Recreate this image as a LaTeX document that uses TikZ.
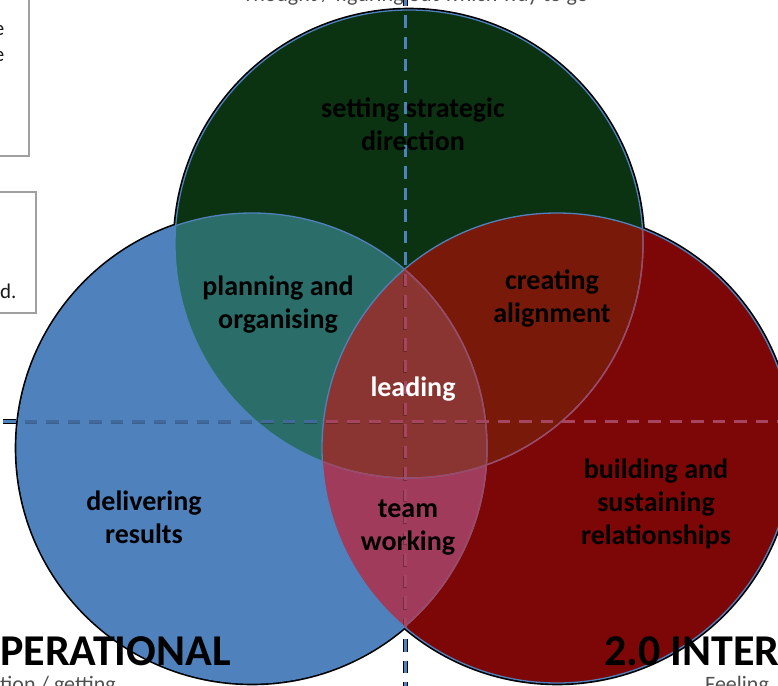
\documentclass[tikz,border=0pt]{standalone}
\usepackage{fontspec}
\setmainfont{Carlito}
\begin{document}
\begin{tikzpicture}[x=1pt,y=-1pt]
% palette
\definecolor{cblue}{HTML}{4F81BD}
\definecolor{cgreen}{HTML}{0B3311}
\definecolor{cred}{HTML}{7D0707}
\definecolor{cteal}{HTML}{2B6E69}
\definecolor{cbrown}{HTML}{78190A}
\definecolor{cpink}{HTML}{A03B5C}
\definecolor{cmid}{HTML}{8B3532}
\definecolor{cline}{HTML}{4F81BD}
\definecolor{clinedark}{HTML}{41699B}
\definecolor{clinepink}{HTML}{A5455F}
\definecolor{cgraytext}{HTML}{505050}
\definecolor{cbox}{HTML}{A0A0A0}
\tikzset{
  axisline/.style={line width=3pt, dash pattern=on 12.5pt off 9pt},
  axisshadow/.style={line width=5pt, dash pattern=on 12.5pt off 9pt, draw=black},
  circshadow/.style={draw=black, line width=2.6pt},
  circedge/.style={draw=cline, line width=1.3pt},
  region/.style={font=\bfseries\fontsize{28}{33}\selectfont, align=center, text=black, inner sep=0pt},
  heading/.style={font=\bfseries\fontsize{44}{50}\selectfont, text=black, inner sep=0pt},
  caption/.style={font=\fontsize{22}{27}\selectfont, text=cgraytext, inner sep=0pt},
  boxtext/.style={font=\fontsize{21}{26}\selectfont, text=black!90, inner sep=0pt},
  sidebox/.style={draw=cbox, line width=1.3pt},
}
\useasboundingbox (0,0) rectangle (778,685);
\clip (0,0) rectangle (778,685);

% circle centres
\coordinate (cg) at (409,244);
\coordinate (cb) at (252,448);
\coordinate (cr) at (557,448);
\def\rg{234pt}
\def\rb{235pt}
\def\rr{235pt}

% axis end points
\coordinate (vtop) at (405,-6);
\coordinate (vbot) at (405,700);
\coordinate (hleft) at (3,421.5);
\coordinate (hright) at (790,421.5);

% side boxes (partly outside the frame)
\draw[sidebox] (-20,-20) rectangle (29,156);
\draw[sidebox] (-20,192) rectangle (36,313);
\node[boxtext, anchor=base east] (e1) at (4.5,36) {e};
\node[boxtext, anchor=base east] (e2) at (4.5,61) {e};
\node[boxtext, anchor=base west] (dd) at (0,298) {d.};

% axes outside the circles
\draw[axisshadow] (vtop) -- (vbot);
\draw[axisshadow] (hleft) -- (hright);
\draw[axisline, draw=cline] (vtop) -- (vbot);
\draw[axisline, draw=cline] (hleft) -- (hright);

% dark rims
\draw[circshadow] (cb) circle[radius=236pt];
\draw[circshadow] (cg) circle[radius=235pt];
\draw[circshadow] (cr) circle[radius=236pt];

% single regions
\fill[cblue] (cb) circle[radius=\rb];
\fill[cgreen] (cg) circle[radius=\rg];
\fill[cred] (cr) circle[radius=\rr];

% pairwise overlaps
\begin{scope}
  \clip (cb) circle[radius=\rb];
  \fill[cteal] (cg) circle[radius=\rg];
  \fill[cpink] (cr) circle[radius=\rr];
\end{scope}
\begin{scope}
  \clip (cg) circle[radius=\rg];
  \fill[cbrown] (cr) circle[radius=\rr];
\end{scope}
% triple overlap
\begin{scope}
  \clip (cb) circle[radius=\rb];
  \clip (cg) circle[radius=\rg];
  \fill[cmid] (cr) circle[radius=\rr];
\end{scope}

% axes seen through the circles
\begin{scope}
  \clip (cg) circle[radius=\rg];
  \draw[axisline, draw=cline] (vtop) -- (vbot);
  \draw[axisline, draw=cline] (hleft) -- (hright);
\end{scope}
\begin{scope}
  \clip (cb) circle[radius=\rb];
  \draw[axisline, draw=black, opacity=0.25, line width=3.5pt] ([yshift=-1pt]vtop) -- ([yshift=-1pt]vbot);
  \draw[axisline, draw=black, opacity=0.25, line width=3.5pt] ([yshift=-1pt]hleft) -- ([yshift=-1pt]hright);
  \draw[axisline, draw=clinedark] (vtop) -- (vbot);
  \draw[axisline, draw=clinedark] (hleft) -- (hright);
\end{scope}
\begin{scope}
  \clip (cr) circle[radius=\rr];
  \draw[axisline, draw=clinepink] (vtop) -- (vbot);
  \draw[axisline, draw=clinepink] (hleft) -- (hright);
\end{scope}

% circle edges
\draw[circedge] (cb) circle[radius=\rb];
\draw[circedge] (cg) circle[radius=\rg];
\draw[circedge] (cr) circle[radius=\rr];
\begin{scope}
  \clip (cr) circle[radius=\rr];
  \draw[draw=clinepink, line width=1.3pt] (cb) circle[radius=\rb];
  \draw[draw=clinepink, line width=1.3pt] (cg) circle[radius=\rg];
\end{scope}

% region labels
\node[region] (strategic) at (413,124) {setting strategic\\direction};
\node[region] (planning) at (278,305) {planning and\\organising};
\node[region] (alignment) at (552,299) {creating\\alignment};
\node[region, text=white] (leading) at (413,389) {leading};
\node[region] (results) at (144,517) {delivering\\results};
\node[region] (team) at (408,528) {team\\working};
\node[region] (relations) at (656,504) {building and\\sustaining\\relationships};

% captions and headings around the diagram
\node[caption, anchor=base] (thought) at (415.5,1.5) {Thought / figuring out which way to go};
\node[heading, anchor=base west] (oper) at (0,665) {PERATIONAL};
\node[heading, anchor=base west] (inter) at (604,665) {2.0 INTER};
\node[caption, anchor=base west] (getting) at (0,691) {tion / getting};
\node[caption, anchor=base west] (feeling) at (705,691) {Feeling};
\end{tikzpicture}
\end{document}
